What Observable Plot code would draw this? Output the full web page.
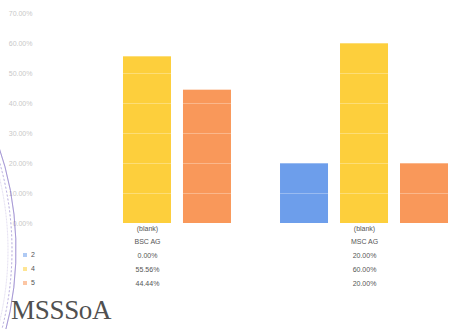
<!DOCTYPE html>
<html>
<head>
<meta charset="utf-8">
<script src="https://cdn.jsdelivr.net/npm/d3@7"></script>
<script src="https://cdn.jsdelivr.net/npm/@observablehq/plot@0.6"></script>
<style>
  html, body { margin: 0; padding: 0; background: #fff; }
  #wrap { position: relative; width: 474px; height: 329px; overflow: hidden; font-family: "Liberation Sans", Arial, sans-serif; }
  #chart { position: absolute; left: 0; top: 0; }
  .leg { position: absolute; left: 23px; font-size: 7px; color: #555; line-height: 8px; display: flex; align-items: center; }
  .leg span.sw { display: inline-block; width: 4px; height: 4px; margin-right: 4px; opacity: 0.55; }
  #mark { position: absolute; left: 11px; top: 295px; font-family: "Liberation Serif", "DejaVu Serif", serif; font-size: 27px; color: #505050; letter-spacing: -0.3px; }
  #stamp { position: absolute; left: 0; top: 0; pointer-events: none; }
</style>
</head>
<body>
<div id="wrap">
  <div id="chart"></div>
  <svg id="stamp" width="474" height="329"></svg>
  <div id="legend"></div>
  <div id="mark">MSSSoA</div>
</div>
<script>
// Data
const groups = ["BSC AG", "MSC AG"];
const series = ["2", "4", "5"];
const bscValues = [0, 0.5556, 0.4444];
const mscValues = [0.20, 0.60, 0.20];
const seriesColors = ["#6d9eeb", "#fdcf3c", "#f9985a"];
const yTicks = [0, 0.1, 0.2, 0.3, 0.4, 0.5, 0.6, 0.7];
const blankLabel = "(blank)";

const table = [];
groups.forEach((g, gi) => {
  const vals = gi === 0 ? bscValues : mscValues;
  series.forEach((s, si) => table.push({group: g, series: s, value: vals[si]}));
});
const pct = v => (v * 100).toFixed(2) + "%";

const rowDy = [32, 46, 60];
const labelMarks = series.map((s, si) =>
  Plot.text(table.filter(d => d.series === s), {
    fx: "group", text: d => pct(d.value), frameAnchor: "bottom",
    dy: rowDy[si], fill: "#555", fontSize: 7, lineAnchor: "middle"
  })
);

const chart = Plot.plot({
  width: 474,
  height: 329,
  marginLeft: 63,
  marginRight: 26,
  marginTop: 13,
  marginBottom: 106,
  style: {fontFamily: "Liberation Sans, Arial, sans-serif", fontSize: "7px", color: "#c8c8c8", background: "transparent"},
  fx: {domain: groups, paddingInner: 0.226, paddingOuter: 0, round: false, axis: null, label: null},
  x: {domain: series, paddingInner: 0.2, paddingOuter: 0, round: false, axis: null, label: null},
  y: {domain: [0, 0.7], axis: null},
  color: {domain: series, range: seriesColors},
  marks: [
    Plot.axisY({ticks: yTicks, tickFormat: pct, tickSize: 0, tickPadding: 31, label: null, fontSize: 7}),
    Plot.barY(table, {fx: "group", x: "series", y: "value", fill: "series"}),
    Plot.ruleY(yTicks.slice(1), {stroke: "#fff", strokeOpacity: 0.3}),
    Plot.text(groups.map(g => ({group: g})), {fx: "group", text: () => blankLabel, frameAnchor: "bottom", dy: 5, fill: "#555", fontSize: 7, lineAnchor: "middle"}),
    Plot.text(groups.map(g => ({group: g})), {fx: "group", text: "group", frameAnchor: "bottom", dy: 18, fill: "#555", fontSize: 7, lineAnchor: "middle"}),
    ...labelMarks
  ]
});
document.getElementById("chart").appendChild(chart);

// legend (series keys aligned with the table rows)
const legendTops = [251, 265, 279];
const legend = document.getElementById("legend");
series.forEach((s, i) => {
  const div = document.createElement("div");
  div.className = "leg";
  div.style.top = legendTops[i] + "px";
  div.innerHTML = `<span class="sw" style="background:${seriesColors[i]}"></span>${s}`;
  legend.appendChild(div);
});

// faint stamp arc at the left edge (scan artifact)
const stamp = d3.select("#stamp");
[[320, 0.5, null], [316, 0.35, "2,2"], [312, 0.25, "1,2"]].forEach(([r, op, dash]) => {
  const arc = d3.arc()({innerRadius: r, outerRadius: r, startAngle: Math.PI / 2 - 0.34, endAngle: Math.PI / 2 + 0.27});
  stamp.append("path").attr("d", arc).attr("transform", "translate(-304,250)")
    .attr("fill", "none").attr("stroke", "#8a78c8").attr("stroke-opacity", op)
    .attr("stroke-width", 1).attr("stroke-dasharray", dash);
});
</script>
</body>
</html>
